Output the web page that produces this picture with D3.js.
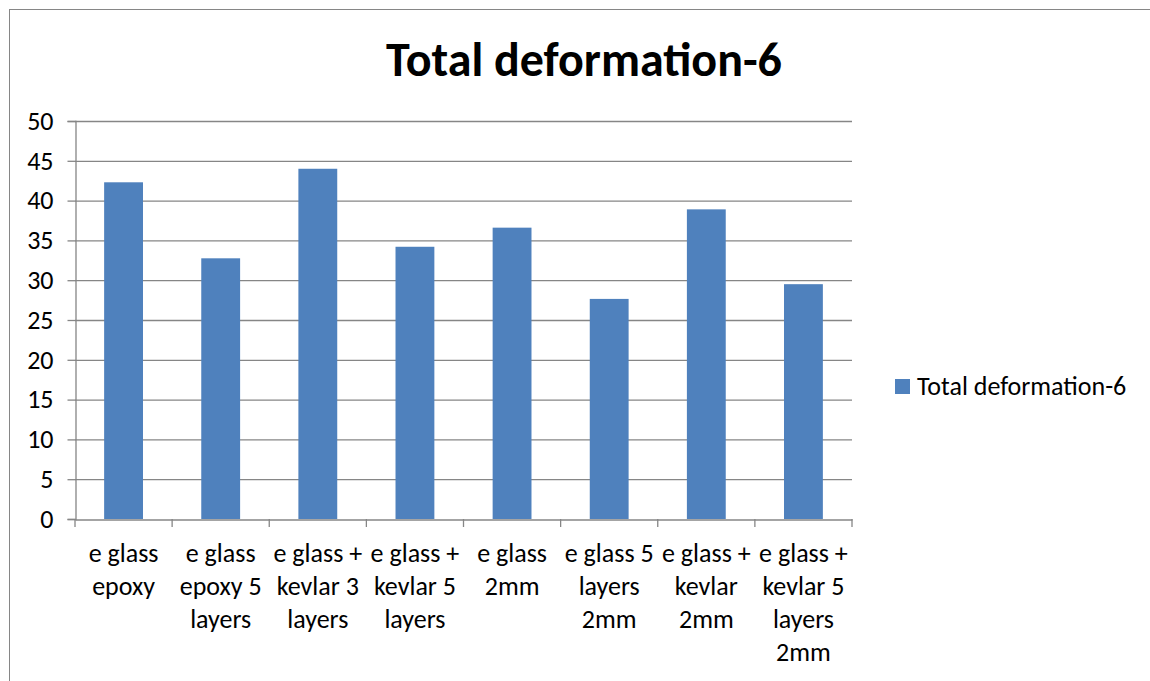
<!DOCTYPE html>
<html>
<head>
<meta charset="utf-8">
<script src="https://cdn.jsdelivr.net/npm/d3@7"></script>
<style>
  body { margin: 0; background: #fff; }
  text { font-family: Carlito, Lato, "Open Sans", sans-serif; fill: #000; }
</style>
</head>
<body>
<div id="chart"></div>
<script>
// data
var categories = ["e glass epoxy", "e glass epoxy 5 layers", "e glass + kevlar 3 layers",
  "e glass + kevlar 5 layers", "e glass 2mm", "e glass 5 layers 2mm",
  "e glass + kevlar 2mm", "e glass + kevlar 5 layers 2mm"];
var labelLines = [["e glass", "epoxy"], ["e glass", "epoxy 5", "layers"], ["e glass +", "kevlar 3", "layers"],
  ["e glass +", "kevlar 5", "layers"], ["e glass", "2mm"], ["e glass 5", "layers", "2mm"],
  ["e glass +", "kevlar", "2mm"], ["e glass +", "kevlar 5", "layers", "2mm"]];
var values = [42.3, 32.75, 44.0, 34.2, 36.6, 27.65, 38.9, 29.5];
var seriesName = "Total deformation-6";
var yTicks = [0, 5, 10, 15, 20, 25, 30, 35, 40, 45, 50];

(function () {
  var width = 1150, height = 681;
  var pLeft = 75, pRight = 852, pTop = 121, pBottom = 519;
  var fontSize = "26px";

  var svg = d3.select("#chart").append("svg")
    .attr("width", width)
    .attr("height", height);

  // outer border
  svg.append("rect")
    .attr("x", 9.5).attr("y", 9.5)
    .attr("width", 1200).attr("height", 800)
    .attr("fill", "none")
    .attr("stroke", "#868686");

  var x = d3.scaleBand().domain(categories).range([pLeft, pRight]).paddingInner(0.6).paddingOuter(0.3);
  var y = d3.scaleLinear().domain([0, 50]).range([pBottom, pTop]);

  // gridlines
  svg.selectAll(".grid").data(yTicks.slice(1)).enter().append("line")
    .attr("x1", pLeft).attr("x2", pRight)
    .attr("y1", d => y(d) + 0.5).attr("y2", d => y(d) + 0.5)
    .attr("stroke", "#868686").attr("stroke-width", 1.3);

  // bars
  svg.selectAll(".bar").data(values).enter().append("rect")
    .attr("x", (d, i) => x(categories[i]))
    .attr("y", d => y(d))
    .attr("width", x.bandwidth())
    .attr("height", d => y(0) - y(d))
    .attr("fill", "#4F81BD");

  // y axis
  var yAxis = svg.append("g")
    .attr("transform", "translate(" + (pLeft + 0.5) + ",0)")
    .call(d3.axisLeft(y).tickValues(yTicks).tickSize(8).tickPadding(14));
  yAxis.select(".domain").attr("stroke", "#868686").attr("stroke-width", 1.3);
  yAxis.selectAll(".tick line").attr("stroke", "#868686").attr("stroke-width", 1.3);
  yAxis.selectAll("text").style("font-size", fontSize).attr("fill", "#000")
    .style("font-family", "Carlito, Lato, 'Open Sans', sans-serif");

  // x axis
  var xAxis = svg.append("g")
    .attr("transform", "translate(0," + (pBottom + 0.5) + ")")
    .call(d3.axisBottom(x).tickSize(0).tickFormat(""));
  xAxis.select(".domain").attr("stroke", "#868686").attr("stroke-width", 1.3);
  var step = x.step();
  svg.selectAll(".xtick").data(d3.range(categories.length + 1)).enter().append("line")
    .attr("x1", d => pLeft + d * step).attr("x2", d => pLeft + d * step)
    .attr("y1", pBottom).attr("y2", pBottom + 8)
    .attr("stroke", "#868686").attr("stroke-width", 1.3);

  // x labels
  categories.forEach(function (c, i) {
    var cx = x(c) + x.bandwidth() / 2;
    var t = svg.append("text")
      .attr("text-anchor", "middle")
      .attr("x", cx)
      .attr("y", 562)
      .style("font-size", fontSize);
    labelLines[i].forEach(function (ln, j) {
      t.append("tspan")
        .attr("x", cx)
        .attr("dy", j == 0 ? 0 : 33)
        .text(ln);
    });
  });

  // title
  svg.append("text")
    .attr("text-anchor", "middle")
    .attr("x", 584)
    .attr("y", 76)
    .style("font-size", "48px")
    .style("font-weight", "bold")
    .text(seriesName);

  // legend
  svg.append("rect")
    .attr("x", 895).attr("y", 379)
    .attr("width", 15).attr("height", 15)
    .attr("fill", "#4F81BD");
  svg.append("text")
    .attr("x", 917).attr("y", 395)
    .style("font-size", fontSize)
    .text(seriesName);
})();
</script>
</body>
</html>
